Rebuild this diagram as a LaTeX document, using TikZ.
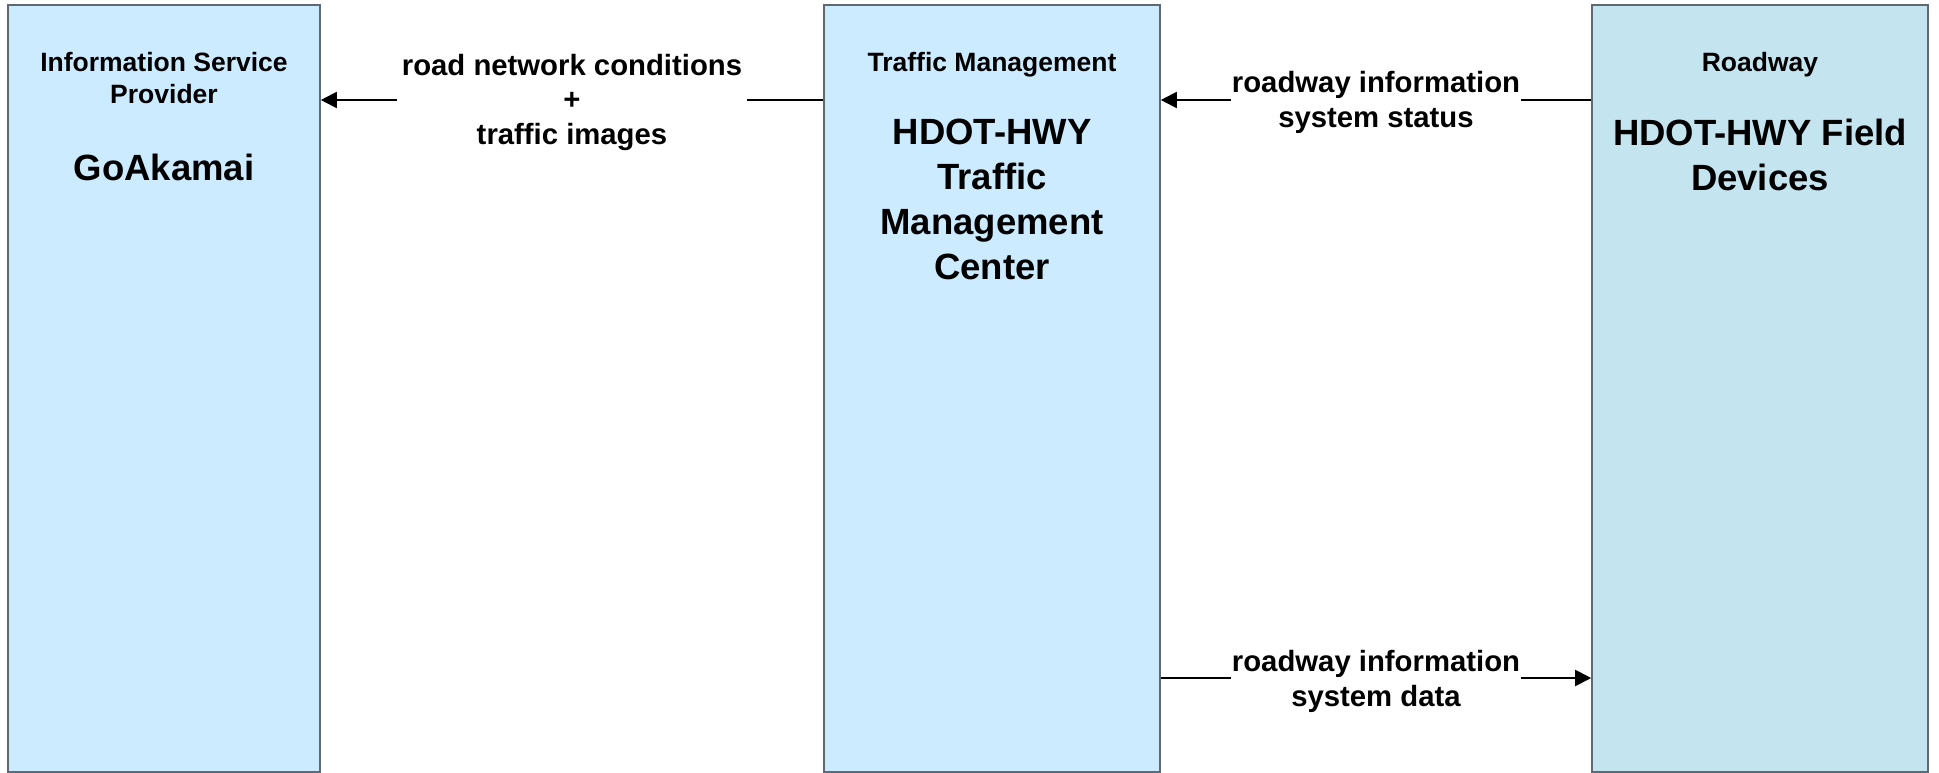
\documentclass[tikz,border=0pt]{standalone}
\usepackage{fontspec}
\setmainfont{Liberation Sans}
\usetikzlibrary{arrows.meta}
\definecolor{boxA}{HTML}{CCEBFF}
\definecolor{boxB}{HTML}{C4E5F0}
\definecolor{edgec}{HTML}{5F6873}
\tikzset{
  box/.style={draw=edgec, line width=1.6pt, inner sep=0pt, minimum height=767pt},
  hdr/.style={font=\fontsize{26.5}{32}\selectfont\bfseries, align=center, anchor=base, inner sep=0pt},
  big/.style={font=\fontsize{36.5}{44.7}\selectfont\bfseries, align=center, anchor=base, inner sep=0pt},
  lbl/.style={font=\fontsize{29.3}{35}\selectfont\bfseries, align=center, anchor=base, fill=white, inner ysep=0pt, inner xsep=2pt},
  arr/.style={line width=2pt, -{Triangle[length=16pt,width=16pt]}}
}
\begin{document}
\begin{tikzpicture}[x=1pt,y=-1pt]
\useasboundingbox (0,0) rectangle (1939,773);
% boxes
\node[box, fill=boxA, minimum width=312pt] (isp) at (164,388.5) {};
\node[box, fill=boxA, minimum width=336pt] (tmc) at (992,388.5) {};
\node[box, fill=boxB, minimum width=336pt] (fld) at (1760,388.5) {};
% box texts (base = baseline of last line)
\node[hdr] (isph) at (164,104) {Information Service\\Provider};
\node[big] (ispn) at (164,180) {GoAkamai};
\node[hdr] (tmch) at (992,72) {Traffic Management};
\node[big] (tmcn) at (992,279) {HDOT-HWY\\Traffic\\Management\\Center};
\node[hdr] (fldh) at (1760,72) {Roadway};
\node[big] (fldn) at (1760,190) {HDOT-HWY Field\\Devices};
% connector levels
\coordinate (lv1) at (0,100);
\coordinate (lv3) at (0,678);
% flows
\draw[arr] (tmc.west |- lv1) -- (isp.east |- lv1);
\draw[arr] (fld.west |- lv1) -- (tmc.east |- lv1);
\draw[arr] (tmc.east |- lv3) -- (fld.west |- lv3);
% labels
\node[lbl, inner xsep=4.5pt] (l1) at (572,145) {road network conditions\\+\\traffic images};
\node[lbl, inner xsep=1pt] (l2) at (1376,128) {roadway information\\system status};
\node[lbl, inner xsep=1pt] (l3) at (1376,706) {roadway information\\system data};
\end{tikzpicture}
\end{document}
